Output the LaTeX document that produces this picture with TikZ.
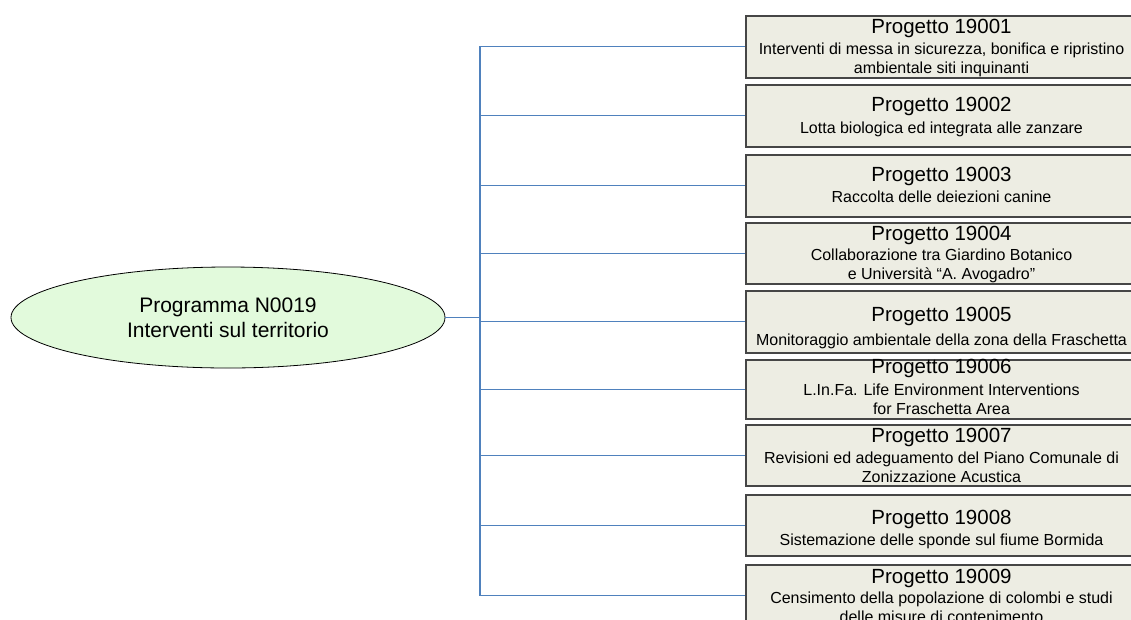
\documentclass[tikz,border=0pt]{standalone}
\usepackage{fontspec}
\setmainfont{Liberation Sans}
\usetikzlibrary{shapes.geometric}
\definecolor{boxfill}{RGB}{237,237,227}
\definecolor{ellfill}{RGB}{226,250,220}
\definecolor{linkblue}{RGB}{79,129,189}
\definecolor{boxedge}{RGB}{70,70,70}
\begin{document}
\begin{tikzpicture}[x=1pt,y=-1pt,
  projbox/.style={draw=boxedge, line width=1.5pt, fill=boxfill, rectangle, inner sep=0pt,
    minimum width=395pt, anchor=north west},
  progell/.style={draw=black, line width=0.8pt, fill=ellfill, ellipse, inner sep=0pt,
    minimum width=434pt, minimum height=101pt, align=center,
    font=\fontsize{21}{25}\selectfont},
  ptitle/.style={anchor=base, inner sep=0pt, font=\fontsize{20.5}{24}\selectfont},
  psub/.style={anchor=base, inner sep=0pt, font=\fontsize{16}{19}\selectfont},
  link/.style={draw=linkblue, line width=1.2pt}
]
\clip (0,0) rectangle (1131,619);
\fill[white] (0,0) rectangle (1131,619);

\node[progell] (prog) at (228,317.5) {Programma N0019\\Interventi sul territorio};
\coordinate (bus) at (480,317.5);

% boxes
\node[projbox, minimum height=62pt] (p1) at (745,15) {};
\node[projbox, minimum height=62pt] (p2) at (745,84) {};
\node[projbox, minimum height=62pt] (p3) at (745,154) {};
\node[projbox, minimum height=61pt] (p4) at (745,222) {};
\node[projbox, minimum height=62pt] (p5) at (745,290) {};
\node[projbox, minimum height=59pt] (p6) at (745,359) {};
\node[projbox, minimum height=61pt] (p7) at (745,424) {};
\node[projbox, minimum height=61pt] (p8) at (745,494) {};
\node[projbox, minimum height=62pt] (p9) at (745,564) {};

% connectors
\foreach \k in {1,...,9}{
  \draw[link] (prog.east) -- (prog.east -| bus) |- (p\k.west);
}

% texts
\node[ptitle] (t1) at (941.5,33.3) {Progetto 19001};
\node[psub] (s1a) at (941.5,54.2) {Interventi di messa in sicurezza, bonifica e ripristino};
\node[psub] (s1b) at (941.5,73.2) {ambientale siti inquinanti};

\node[ptitle] (t2) at (941.5,111.8) {Progetto 19002};
\node[psub] (s2a) at (941.5,133.7) {Lotta biologica ed integrata alle zanzare};

\node[ptitle] (t3) at (941.5,181.3) {Progetto 19003};
\node[psub] (s3a) at (941.5,202.7) {Raccolta delle deiezioni canine};

\node[ptitle] (t4) at (941.5,240.3) {Progetto 19004};
\node[psub] (s4a) at (941.5,260.7) {Collaborazione tra Giardino Botanico};
\node[psub] (s4b) at (941.5,279.7) {e Università “A. Avogadro”};

\node[ptitle] (t5) at (941.5,321.3) {Progetto 19005};
\node[psub] (s5a) at (941.5,345.7) {Monitoraggio ambientale della zona della Fraschetta};

\node[ptitle] (t6) at (941.5,373.3) {Progetto 19006};
\node[psub] (s6a) at (941.5,395.7) {L.In.Fa. Life Environment Interventions};
\node[psub] (s6b) at (941.5,414.7) {for Fraschetta Area};

\node[ptitle] (t7) at (941.5,442.3) {Progetto 19007};
\node[psub] (s7a) at (941.5,463.2) {Revisioni ed adeguamento del Piano Comunale di};
\node[psub] (s7b) at (941.5,482.2) {Zonizzazione Acustica};

\node[ptitle] (t8) at (941.5,524.3) {Progetto 19008};
\node[psub] (s8a) at (941.5,545.7) {Sistemazione delle sponde sul fiume Bormida};

\node[ptitle] (t9) at (941.5,583.3) {Progetto 19009};
\node[psub] (s9a) at (941.5,603.7) {Censimento della popolazione di colombi e studi};
\node[psub] (s9b) at (941.5,622.7) {delle misure di contenimento};
\end{tikzpicture}
\end{document}
